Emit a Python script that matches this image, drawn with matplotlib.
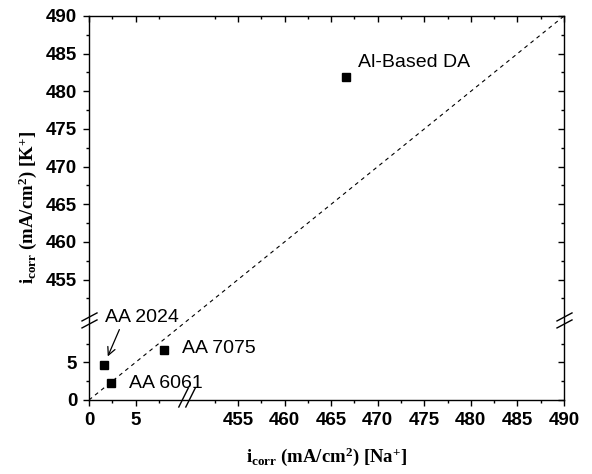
import numpy as np
import matplotlib
matplotlib.use("Agg")
import matplotlib.pyplot as plt
import matplotlib.transforms as mtransforms
from matplotlib.ticker import FixedLocator

plt.rcParams['font.family'] = ['Liberation Sans', 'DejaVu Sans']
plt.rcParams['mathtext.fontset'] = 'custom'
plt.rcParams['mathtext.rm'] = 'Liberation Serif:bold'
plt.rcParams['mathtext.it'] = 'Liberation Serif:bold'
plt.rcParams['mathtext.bf'] = 'Liberation Serif:bold'

# corrosion current densities, Na+ vs K+ electrolyte
alloys = ['AA 2024', 'AA 6061', 'AA 7075', 'Al-Based DA']
icorr_na = [1.6, 2.4, 8.1, 466.6]
icorr_k = [4.6, 2.3, 6.7, 481.9]

major_ticks = [0, 5, 455, 460, 465, 470, 475, 480, 485, 490]
minor_ticks = [2.5, 7.5, 452.5, 457.5, 462.5, 467.5, 472.5, 477.5, 482.5, 487.5]
ref_line = [0, 10.5, 449.5, 490]

# broken axis: 0-10.5 and 449.5-490 share one linear scale
lo_end = 10.5
hi_start = 449.5
gap = hi_start - lo_end
ax_max = 490


def forward(v):
    v = np.asarray(v, dtype=float)
    return np.where(v <= lo_end, v, np.where(v >= hi_start, v - gap, lo_end))


def inverse(u):
    u = np.asarray(u, dtype=float)
    return np.where(u <= lo_end, u, u + gap)


fig = plt.figure(figsize=(5.92, 4.74), dpi=100)
ax = fig.add_axes([89 / 592, 74 / 474, 475 / 592, 384 / 474])

ax.set_xscale('function', functions=(forward, inverse))
ax.set_yscale('function', functions=(forward, inverse))
ax.set_xlim(0, ax_max)
ax.set_ylim(0, ax_max)

ax.plot(ref_line, ref_line, color='black', lw=0.8, ls=(0, (3.5, 3.5)))
ax.plot(icorr_na, icorr_k, ls='none', marker='s', ms=6, color='black')

offsets = {'AA 2024': (0.7, 34.8), 'AA 6061': (12.7, -0.9),
           'AA 7075': (12.5, 0.9), 'Al-Based DA': (8.6, 10.3)}
for name, xv, yv in zip(alloys, icorr_na, icorr_k):
    if name == 'AA 2024':
        ax.annotate(name, xy=(xv, yv), xytext=offsets[name],
                    textcoords='offset points', ha='left', va='center',
                    fontsize=14,
                    arrowprops=dict(arrowstyle='->', color='black', lw=0.9,
                                    relpos=(0.22, 0.0), shrinkA=1, shrinkB=7))
    else:
        ax.annotate(name, xy=(xv, yv), xytext=offsets[name],
                    textcoords='offset points', ha='left', va='center',
                    fontsize=14)

for axis in (ax.xaxis, ax.yaxis):
    axis.set_major_locator(FixedLocator(major_ticks))
    axis.set_minor_locator(FixedLocator(minor_ticks))

ax.tick_params(which='both', direction='out', width=1.0, labelsize=13.5, pad=4)
ax.tick_params(which='major', length=4.5)
ax.tick_params(which='minor', length=2.5)
for lab in ax.get_xticklabels() + ax.get_yticklabels():
    lab.set_fontweight('bold')
for sp in ax.spines.values():
    sp.set_linewidth(1.0)

# mirrored ticks on top and right, pointing inward
ax2 = fig.add_axes(ax.get_position(), sharex=ax, sharey=ax, frameon=False)
ax2.tick_params(which='both', direction='in', width=1.0,
                bottom=False, left=False, top=True, right=True,
                labelbottom=False, labelleft=False)
ax2.tick_params(which='major', length=4.5)
ax2.tick_params(which='minor', length=2.5)
ax2.patch.set_visible(False)

lab_kw = dict(fontsize=13.5, fontfamily='Liberation Serif', fontweight='bold')
ax.set_xlabel(r'i$_{corr}$ (mA/cm$^{2}$) [Na$^{+}$]', labelpad=12, **lab_kw)
ax.set_ylabel(r'i$_{corr}$ (mA/cm$^{2}$) [K$^{+}$]', labelpad=5, **lab_kw)

# break marks drawn in pixel offsets around the break location
brk = float(forward(lo_end) / forward(ax_max))


def break_mark(xa, ya, segs):
    trans = fig.dpi_scale_trans + mtransforms.ScaledTranslation(xa, ya, ax.transAxes)
    for (x0, y0), (x1, y1) in segs:
        ax.plot([x0 / 100, x1 / 100], [y0 / 100, y1 / 100], color='black',
                lw=1.0, transform=trans, clip_on=False)


steep = [((-8, -7), (1.5, 12)), ((-1, -7), (8.5, 12))]
flat = [((-7, -7), (8, 1)), ((-7, 0), (8, 8))]
break_mark(brk, 0, steep)
break_mark(0, brk, flat)
break_mark(1, brk, flat)

fig.savefig('out.png', dpi=100)
